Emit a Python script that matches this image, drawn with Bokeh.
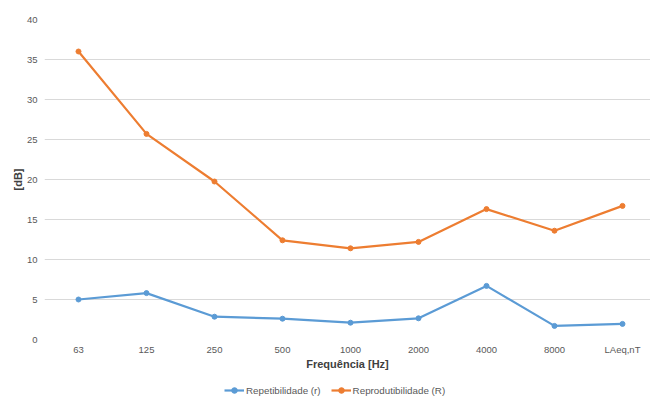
from bokeh.plotting import figure
from bokeh.layouts import column
from bokeh.models import Range1d, FixedTicker, Legend, LegendItem, ColumnDataSource
from bokeh.embed import file_html
from bokeh.resources import INLINE

categories = ["63", "125", "250", "500", "1000", "2000", "4000", "8000", "LAeq,nT"]
repetibilidade = [5.0, 5.8, 2.85, 2.6, 2.1, 2.65, 6.7, 1.7, 1.95]
reprodutibilidade = [36.0, 25.7, 19.75, 12.4, 11.4, 12.2, 16.3, 13.6, 16.7]
y_ticks = [0, 5, 10, 15, 20, 25, 30, 35, 40]

xs = list(range(len(categories)))
src = ColumnDataSource(dict(x=xs, r=repetibilidade, R=reprodutibilidade))

blue = "#5B9BD5"
orange = "#ED7D31"

p = figure(width=650, height=380, output_backend="svg", toolbar_location=None,
           x_range=Range1d(-0.5, len(categories) - 0.588), y_range=Range1d(0, 40),
           min_border_left=44, min_border_right=0, min_border_top=19, min_border_bottom=41)
p.outline_line_color = None
p.background_fill_color = "white"
p.border_fill_color = "white"

p.line("x", "r", source=src, line_color=blue, line_width=2.2)
p.scatter("x", "r", source=src, size=5, fill_color=blue, line_color=blue)
p.line("x", "R", source=src, line_color=orange, line_width=2.2)
p.scatter("x", "R", source=src, size=5, fill_color=orange, line_color=orange)

p.xgrid.visible = False
p.ygrid.grid_line_color = "#d9d9d9"
p.ygrid.grid_line_width = 1

p.xaxis.ticker = FixedTicker(ticks=xs)
p.xaxis.major_label_overrides = {i: c for i, c in enumerate(categories)}
p.yaxis.ticker = FixedTicker(ticks=y_ticks)

for ax in (p.xaxis, p.yaxis):
    ax.axis_line_color = None
    ax.major_tick_line_color = None
    ax.minor_tick_line_color = None
    ax.major_tick_out = 0
    ax.major_tick_in = 0
    ax.minor_tick_out = 0
    ax.minor_tick_in = 0
    ax.major_label_text_font = "Liberation Sans"
    ax.major_label_text_font_size = "9.5px"
    ax.major_label_text_color = "#595959"
    ax.axis_label_text_font = "Liberation Sans"
    ax.axis_label_text_font_size = "11px"
    ax.axis_label_text_font_style = "bold"
    ax.axis_label_text_color = "#404040"

p.xaxis.axis_label = "Frequência [Hz]"
p.xaxis.major_label_standoff = 4
p.xaxis.axis_label_standoff = 0
p.yaxis.axis_label = "[dB]"
p.yaxis.major_label_standoff = 7
p.yaxis.axis_label_standoff = 0

# legend strip (its glyph renderers sit outside its visible range)
q = figure(width=650, height=17, output_backend="svg", toolbar_location=None,
           x_range=Range1d(-0.5, len(categories) - 0.588), y_range=Range1d(100, 101),
           min_border=0)
q.outline_line_color = None
q.axis.visible = False
q.grid.visible = False
l1 = q.line("x", "r", source=src, line_color=blue, line_width=2.2)
c1 = q.scatter("x", "r", source=src, size=5, fill_color=blue, line_color=blue)
l2 = q.line("x", "R", source=src, line_color=orange, line_width=2.2)
c2 = q.scatter("x", "R", source=src, size=5, fill_color=orange, line_color=orange)

legend = Legend(items=[LegendItem(label="Repetibilidade (r)", renderers=[l1, c1]),
                       LegendItem(label="Reprodutibilidade (R)", renderers=[l2, c2])],
                location=(180, 0), orientation="horizontal",
                border_line_color=None, background_fill_alpha=0,
                padding=0, margin=0, spacing=10, label_standoff=2,
                glyph_width=20, glyph_height=14,
                label_text_font="Liberation Sans", label_text_font_size="9.8px",
                label_text_color="#595959")
q.add_layout(legend)

layout = column(p, q, spacing=0)
open("out.html", "w").write(file_html(layout, INLINE))
